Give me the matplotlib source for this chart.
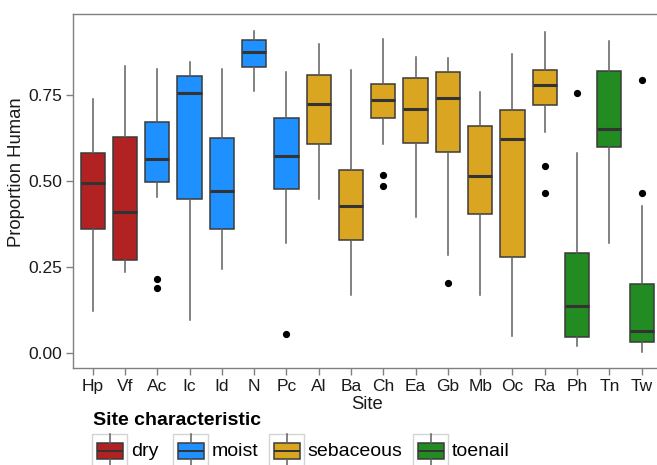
import matplotlib
matplotlib.use("Agg")
import matplotlib.pyplot as plt
from matplotlib.patches import Rectangle
from matplotlib.lines import Line2D

plt.rcParams["font.family"] = ["Liberation Sans", "DejaVu Sans"]

# Per-site summary statistics of the proportion of human reads
sites = ["Hp", "Vf", "Ac", "Ic", "Id", "N", "Pc", "Al", "Ba", "Ch", "Ea", "Gb",
         "Mb", "Oc", "Ra", "Ph", "Tn", "Tw"]
groups = ["dry", "dry", "moist", "moist", "moist", "moist", "moist",
          "sebaceous", "sebaceous", "sebaceous", "sebaceous", "sebaceous",
          "sebaceous", "sebaceous", "sebaceous", "toenail", "toenail", "toenail"]
whislo = [0.122, 0.237, 0.454, 0.096, 0.245, 0.762, 0.322, 0.449, 0.170, 0.609,
          0.397, 0.286, 0.170, 0.050, 0.643, 0.020, 0.322, 0.005]
q1 = [0.361, 0.270, 0.498, 0.448, 0.360, 0.831, 0.479, 0.609, 0.328, 0.684,
      0.610, 0.585, 0.406, 0.281, 0.721, 0.048, 0.599, 0.032]
med = [0.496, 0.412, 0.566, 0.758, 0.473, 0.877, 0.574, 0.725, 0.428, 0.735,
       0.711, 0.743, 0.516, 0.622, 0.781, 0.138, 0.652, 0.066]
q3 = [0.581, 0.629, 0.673, 0.807, 0.625, 0.910, 0.684, 0.810, 0.533, 0.782,
      0.801, 0.817, 0.661, 0.708, 0.824, 0.291, 0.822, 0.201]
whishi = [0.739, 0.834, 0.826, 0.847, 0.826, 0.938, 0.819, 0.899, 0.824, 0.913,
          0.862, 0.859, 0.760, 0.870, 0.935, 0.583, 0.907, 0.427]
outliers = [[], [], [0.216, 0.189], [], [], [], [0.056], [], [], [0.517, 0.486],
            [], [0.204], [], [], [0.544, 0.467], [0.756], [], [0.794, 0.467]]

categories = ["dry", "moist", "sebaceous", "toenail"]
palette = {"dry": "#B22222", "moist": "#1E90FF",
           "sebaceous": "#DAA520", "toenail": "#228B22"}

W, H = 657, 465
fig = plt.figure(figsize=(W / 100, H / 100), dpi=100)
ax = fig.add_axes([73.3 / W, 1 - 368.3 / H, (661 - 73.3) / W, (368.3 - 14.3) / H])

stats = []
for i, s in enumerate(sites):
    stats.append(dict(label=s, whislo=whislo[i], q1=q1[i], med=med[i],
                      q3=q3[i], whishi=whishi[i], fliers=outliers[i]))

positions = list(range(1, len(sites) + 1))
bp = ax.bxp(stats, positions=positions, widths=0.75, patch_artist=True,
            showcaps=False,
            boxprops=dict(edgecolor="#3a3a3a", linewidth=1.1),
            medianprops=dict(color="#333333", linewidth=2.2, solid_capstyle="butt"),
            whiskerprops=dict(color="#5f5f5f", linewidth=1.1),
            flierprops=dict(marker="o", markerfacecolor="black",
                            markeredgecolor="black", markersize=4.2))
for patch, g in zip(bp["boxes"], groups):
    patch.set_facecolor(palette[g])

ax.set_xlim(0.4, len(sites) + 0.6)
ax.set_ylim(-0.0436, 0.9855)
ax.set_yticks([0.0, 0.25, 0.5, 0.75])
ax.set_yticklabels(["0.00", "0.25", "0.50", "0.75"])
ax.set_xticks(positions)
ax.set_xticklabels(sites)

for sp in ax.spines.values():
    sp.set_color("#808080")
    sp.set_linewidth(1.0)
ax.tick_params(axis="both", colors="#808080", length=5, width=1.0,
               labelsize=12.5, labelcolor="#1a1a1a", pad=3)

ax.set_xlabel("Site", fontsize=13.3, color="#1a1a1a", labelpad=1)
ax.set_ylabel("Proportion Human", fontsize=13.3, color="#1a1a1a")
ax.yaxis.set_label_coords(-0.083, 0.555)

# Legend drawn in pixel space along the bottom
def fx(px):
    return px / W

def fy(py):
    return 1 - py / H

fig.text(fx(93), fy(420), "Site characteristic", fontsize=14, fontweight="bold",
         ha="left", va="center", color="black")

key_x = [92.3, 173.3, 269.3, 413.3]
key_top, key_size = 434.0, 34.4
for kx, cat in zip(key_x, categories):
    fig.add_artist(Rectangle((fx(kx), fy(key_top + key_size)), key_size / W,
                             key_size / H, transform=fig.transFigure,
                             facecolor="white", edgecolor="#d4d4d4", linewidth=1.0))
    cx = kx + key_size / 2
    fig.add_artist(Line2D([fx(cx), fx(cx)], [fy(key_top), fy(443.3)],
                          transform=fig.transFigure, color="#5f5f5f", linewidth=1.1))
    fig.add_artist(Line2D([fx(cx), fx(cx)], [fy(459.3), fy(key_top + key_size)],
                          transform=fig.transFigure, color="#5f5f5f", linewidth=1.1))
    fig.add_artist(Rectangle((fx(kx + 4.4), fy(459.3)), 26.6 / W, 16 / H,
                             transform=fig.transFigure, facecolor=palette[cat],
                             edgecolor="#3a3a3a", linewidth=1.1))
    fig.add_artist(Line2D([fx(kx + 4.9), fx(kx + 30.5)], [fy(451.3), fy(451.3)],
                          transform=fig.transFigure, color="#333333", linewidth=1.4,
                          solid_capstyle="butt"))
    fig.text(fx(kx + key_size + 4), fy(451), cat, fontsize=14, ha="left",
             va="center", color="black")

fig.savefig("out.png", dpi=100)
